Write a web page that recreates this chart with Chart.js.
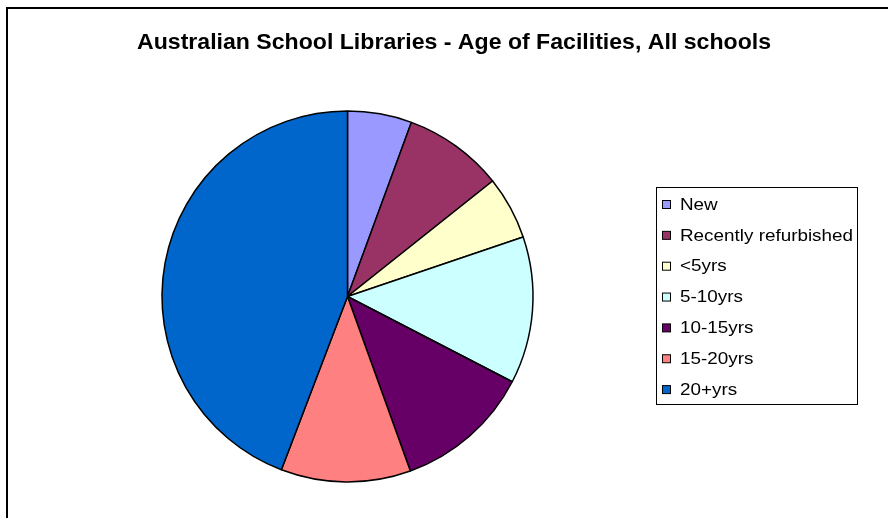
<!DOCTYPE html>
<html>
<head>
<meta charset="utf-8">
<style>
  html, body { margin: 0; padding: 0; background: #fff; }
  #wrap { width: 888px; height: 518px; position: relative; }
</style>
<script src="https://cdn.jsdelivr.net/npm/chart.js@4.4.0/dist/chart.umd.min.js"></script>
</head>
<body>
<div id="wrap"><canvas id="c" width="888" height="518"></canvas></div>
<script>
const chartTitle = 'Australian School Libraries - Age of Facilities, All schools';
const categories = ['New', 'Recently refurbished', '<5yrs', '5-10yrs', '10-15yrs', '15-20yrs', '20+yrs'];
const shares = [5.6, 8.7, 5.5, 12.8, 11.9, 11.3, 44.2];
const sliceColors = ['#9999FF', '#993366', '#FFFFCC', '#CCFFFF', '#660066', '#FF8080', '#0066CC'];

function fillStretched(ctx, text, x, y, targetWidth, align) {
  const w = ctx.measureText(text).width;
  const sx = targetWidth ? targetWidth / w : 1;
  ctx.save();
  let x0 = x;
  if (align === 'center') x0 = x - (w * sx) / 2;
  ctx.translate(x0, y);
  ctx.scale(sx, 1);
  ctx.textAlign = 'left';
  ctx.fillText(text, 0, 0);
  ctx.restore();
}

const decor = {
  id: 'decor',
  beforeDraw(chart) {
    const ctx = chart.ctx;
    ctx.save();
    ctx.fillStyle = '#fff';
    ctx.fillRect(0, 0, chart.width, chart.height);
    ctx.strokeStyle = '#000';
    ctx.lineWidth = 2;
    ctx.beginPath();
    ctx.moveTo(7, 530);
    ctx.lineTo(7, 8);
    ctx.lineTo(900, 8);
    ctx.stroke();
    ctx.restore();
  },
  afterDraw(chart) {
    const ctx = chart.ctx;
    const labels = chart.data.labels;
    const colors = chart.data.datasets[0].backgroundColor;
    ctx.save();
    // title
    ctx.fillStyle = '#000';
    ctx.textBaseline = 'alphabetic';
    ctx.font = 'bold 22px "Liberation Sans", Arial, sans-serif';
    fillStretched(ctx, chartTitle, 454, 49, 634, 'center');
    // legend box
    ctx.strokeStyle = '#000';
    ctx.lineWidth = 1;
    ctx.strokeRect(656.5, 187.5, 201, 217);
    ctx.font = '17px "Liberation Sans", Arial, sans-serif';
    ctx.textBaseline = 'middle';
    const refW = ctx.measureText('Recently refurbished').width;
    const sx = 173 / refW;
    labels.forEach((lab, i) => {
      const cy = 204 + i * 30.85;
      ctx.fillStyle = colors[i];
      ctx.fillRect(662.5, cy - 3.5, 8, 8);
      ctx.strokeStyle = '#000';
      ctx.lineWidth = 1;
      ctx.strokeRect(662.5, cy - 3.5, 8, 8);
      ctx.fillStyle = '#000';
      const w = ctx.measureText(lab).width;
      fillStretched(ctx, lab, 680, cy + 1, w * sx, 'left');
    });
    ctx.restore();
  }
};

new Chart(document.getElementById('c'), {
  type: 'pie',
  data: {
    labels: categories,
    datasets: [{
      data: shares,
      backgroundColor: sliceColors,
      borderColor: '#000',
      borderWidth: 1.5,
      radius: 185.5
    }]
  },
  options: {
    responsive: false,
    animation: false,
    layout: { padding: { left: 162, right: 355, top: 111, bottom: 36 } },
    plugins: {
      legend: { display: false },
      title: { display: false },
      tooltip: { enabled: false }
    }
  },
  plugins: [decor]
});
</script>
</body>
</html>
